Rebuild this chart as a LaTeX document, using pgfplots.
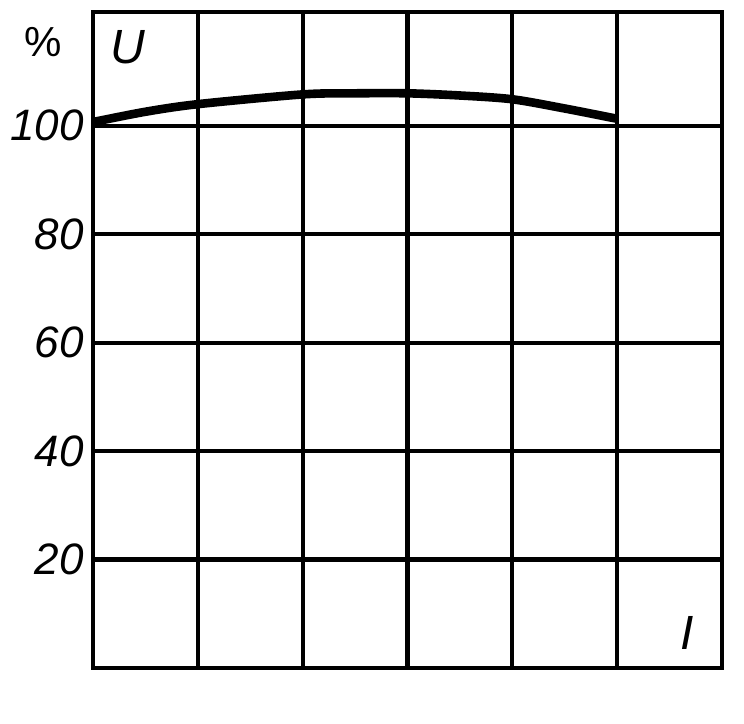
\documentclass[border=0pt]{standalone}
\usepackage{pgfplots}
\pgfplotsset{compat=1.18}
\usepackage{fontspec}
\setmainfont{Liberation Sans}
\begin{document}
\begin{tikzpicture}
\begin{axis}[
  scale only axis,
  width=314.5pt, height=328pt,
  xmin=0, xmax=6, ymin=0, ymax=121,
  xtick={0,1,2,3,4,5,6}, xticklabels={},
  ytick={20,40,60,80,100},
  yticklabels={20,40,60,80,100},
  grid=major,
  major grid style={black, line width=2.1pt},
  axis line style={black, line width=2.4pt},
  major tick length=0pt,
  yticklabel style={font=\itshape\fontsize{22}{22}\selectfont, xshift=-1pt},
  clip=false,
]
\addplot[black, line width=4.3pt, smooth] coordinates {
 (0,100.7) (0.5,102.6) (1,104) (2,105.8) (2.5,106) (3,106) (3.5,105.6) (4,104.9) (4.5,103.2) (5,101.3)
};
\node[font=\fontsize{21}{21}\selectfont, anchor=center] at (axis cs:-0.48,115.5) {\%};
\node[font=\itshape\fontsize{24}{24}\selectfont, anchor=center] at (axis cs:0.33,114.5) {U};
\node[font=\itshape\fontsize{24}{24}\selectfont, anchor=center] at (axis cs:5.67,6.5) {I};
\end{axis}
\pgfresetboundingbox
\path ([xshift=-46.5pt,yshift=-27.5pt]current axis.south west) rectangle ([xshift=11pt,yshift=6pt]current axis.north east);
\end{tikzpicture}
\end{document}
